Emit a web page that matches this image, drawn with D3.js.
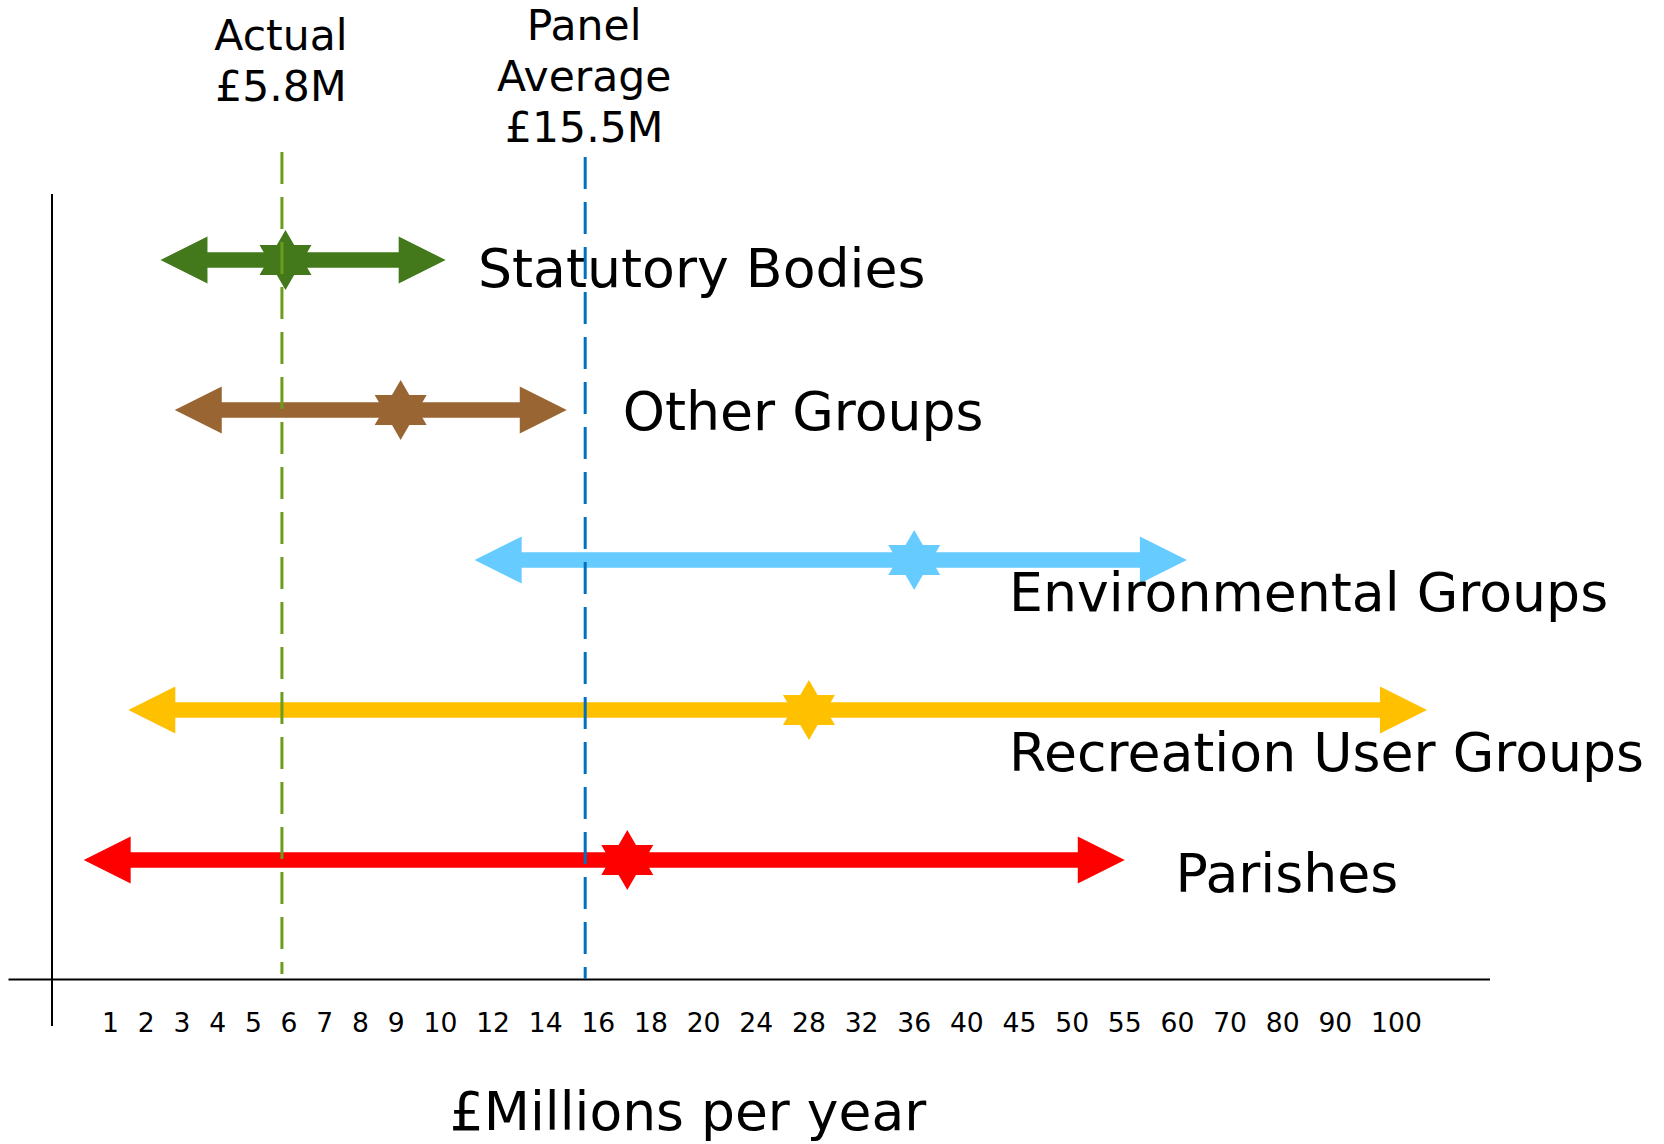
<!DOCTYPE html>
<html><head><meta charset="utf-8">
<script src="https://cdn.jsdelivr.net/npm/d3@7"></script>
<style>body{margin:0;background:#fff} svg{display:block}</style>
</head><body><svg id="chart" width="1664" height="1144"></svg>
<script>
// ---- data ----
const groups = ["Statutory Bodies","Other Groups","Environmental Groups","Recreation User Groups","Parishes"];
const lowValues = [2.4, 2.8, 11.3, 1.5, 0.25];
const highValues = [10.2, 14.8, 61.8, 105, 55];
const starValues = [5.9, 9.1, 36, 28, 17.1];
const groupColors = ["#43791a","#996633","#66ccff","#ffc000","#ff0000"];
const labelValues = [11.5, 17, 44.2, 44.2, 60];
const tickValues = [1,2,3,4,5,6,7,8,9,10,12,14,16,18,20,24,28,32,36,40,45,50,55,60,70,80,90,100];
const refValues = [5.8, 15.5];
const refLabels = [["Actual","£5.8M"],["Panel","Average","£15.5M"]];
const refColors = ["#6b9c1c","#0070c0"];
const axisTitle = "£Millions per year";

// ---- layout ----
const font = "'DejaVu Sans', Verdana, sans-serif";
const axisY = 979.5, axisX = 52;
const tickFont = 26.6, tickGap = 18.8, tickStart = 102, tickBaseline = 1032;
const labelDy = [26.5, 20, 51, 61, 31.5];

const svg = d3.select("#chart");

// tick labels laid out as a spaced row of text, positions measured
const tg = svg.append("g").attr("font-family", font).attr("font-size", tickFont).attr("fill", "#000");
const tickTexts = tg.selectAll("text").data(tickValues).join("text").text(d => d).attr("y", tickBaseline);
let cursor = tickStart;
const centers = [];
tickTexts.each(function(d){
  const w = this.getComputedTextLength();
  d3.select(this).attr("x", cursor);
  centers.push(cursor + w / 2);
  cursor += w + tickGap;
});

const x = d3.scaleLinear().domain(tickValues).range(centers);
const y = d3.scalePoint().domain(groups).range([260, 860]);

// axes lines
svg.append("line").attr("x1", 8.5).attr("x2", 1490).attr("y1", axisY).attr("y2", axisY)
  .attr("stroke", "#000").attr("stroke-width", 2);
svg.append("line").attr("x1", axisX).attr("x2", axisX).attr("y1", 194).attr("y2", 1026)
  .attr("stroke", "#000").attr("stroke-width", 2);

// arrows
const shaft = 7.75, headH = 23.5, headL = 47;
function arrowPath(x0, x1, yc){
  const p = d3.path();
  p.moveTo(x0, yc);
  p.lineTo(x0 + headL, yc - headH);
  p.lineTo(x0 + headL, yc - shaft);
  p.lineTo(x1 - headL, yc - shaft);
  p.lineTo(x1 - headL, yc - headH);
  p.lineTo(x1, yc);
  p.lineTo(x1 - headL, yc + headH);
  p.lineTo(x1 - headL, yc + shaft);
  p.lineTo(x0 + headL, yc + shaft);
  p.lineTo(x0 + headL, yc + headH);
  p.closePath();
  return p.toString();
}
const rows = groups.map((g, i) => ({g, lo: lowValues[i], hi: highValues[i], st: starValues[i], c: groupColors[i], lv: labelValues[i], dy: labelDy[i]}));

svg.append("g").selectAll("path").data(rows).join("path")
  .attr("d", d => arrowPath(x(d.lo), x(d.hi), y(d.g)))
  .attr("fill", d => d.c);

// six-pointed stars
const R = 30, r = R / Math.sqrt(3);
const starPts = d3.range(12).map(k => [k * Math.PI / 6, k % 2 === 0 ? R : r]);
const star = d3.lineRadial().curve(d3.curveLinearClosed)(starPts);
svg.append("g").selectAll("path").data(rows).join("path")
  .attr("d", star)
  .attr("transform", d => `translate(${x(d.st)},${y(d.g)})`)
  .attr("fill", d => d.c);

// group labels
svg.append("g").attr("font-family", font).attr("font-size", 53.7).attr("fill", "#000")
  .selectAll("text").data(rows).join("text")
  .attr("x", d => x(d.lv) - 2).attr("y", d => y(d.g) + d.dy).text(d => d.g);

// reference dashed lines
const refTop = [152, 157], refBottom = [974, 979];
svg.append("g").selectAll("line").data(refValues).join("line")
  .attr("x1", d => x(d)).attr("x2", d => x(d))
  .attr("y1", (d, i) => refTop[i]).attr("y2", (d, i) => refBottom[i])
  .attr("stroke", (d, i) => refColors[i]).attr("stroke-width", 3)
  .attr("stroke-dasharray", "32,13");

// reference labels
const refBase = [50, 40];
const rl = svg.append("g").attr("font-family", font).attr("font-size", 42.5).attr("fill", "#000").attr("text-anchor", "middle");
refValues.forEach((v, i) => {
  rl.selectAll(null).data(refLabels[i]).join("text")
    .attr("x", x(v) - 1)
    .attr("y", (d, j) => refBase[i] + j * 51)
    .text(d => d);
});

// axis title
svg.append("text").attr("x", 688).attr("y", 1130).attr("text-anchor", "middle")
  .attr("font-family", font).attr("font-size", 53.5).attr("fill", "#000").text(axisTitle);
</script></body></html>
